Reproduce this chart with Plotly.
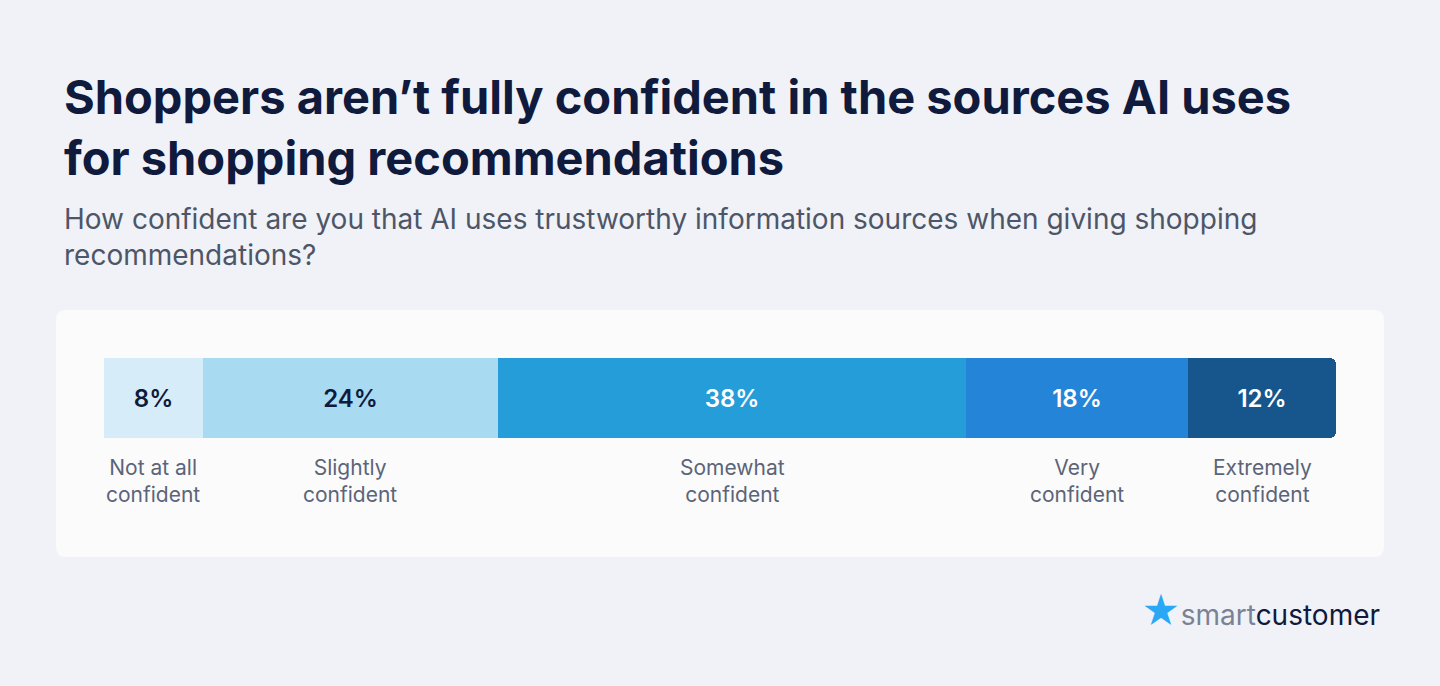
import plotly.graph_objects as go

categories = ["Not at all<br>confident", "Slightly<br>confident", "Somewhat<br>confident",
              "Very<br>confident", "Extremely<br>confident"]
values = [8, 24, 38, 18, 12]
colors = ["#d6ecf8", "#a8daf2", "#259dd9", "#2484d8", "#16568c"]
text_colors = ["#0f1a3c", "#0f1a3c", "#ffffff", "#ffffff", "#ffffff"]

W, H = 1440, 686


def px(x):
    return x / W


def py(y):
    return 1 - y / H


fig = go.Figure()
for cat, v, c, tc in zip(categories, values, colors, text_colors):
    fig.add_trace(go.Bar(
        x=[v], y=[""], orientation="h", marker=dict(color=c, line=dict(width=0)),
        text=[f"{v}%"], textposition="inside", insidetextanchor="middle",
        textfont=dict(family="Inter", size=24, color=tc, weight=600),
        hoverinfo="skip", showlegend=False,
    ))

# card with rounded corners
cx0, cx1, cy0, cy1, r = 56, 1384, 310, 557, 10
path = (f"M {px(cx0 + r)} {py(cy0)} L {px(cx1 - r)} {py(cy0)} Q {px(cx1)} {py(cy0)} {px(cx1)} {py(cy0 + r)} "
        f"L {px(cx1)} {py(cy1 - r)} Q {px(cx1)} {py(cy1)} {px(cx1 - r)} {py(cy1)} "
        f"L {px(cx0 + r)} {py(cy1)} Q {px(cx0)} {py(cy1)} {px(cx0)} {py(cy1 - r)} "
        f"L {px(cx0)} {py(cy0 + r)} Q {px(cx0)} {py(cy0)} {px(cx0 + r)} {py(cy0)} Z")
fig.add_shape(type="path", xref="paper", yref="paper", path=path,
              fillcolor="#fbfbfc", line=dict(width=0), layer="below")

# category labels below bar
cum = 0
for cat, v in zip(categories, values):
    fig.add_annotation(x=cum + v / 2, y=py(453), xref="x", yref="paper",
                       text=cat, showarrow=False, yanchor="top",
                       font=dict(family="Inter", size=21, color="#5b6478"))
    cum += v

fig.add_annotation(x=px(62), y=py(66), xref="paper", yref="paper", xanchor="left", yanchor="top",
                   align="left", showarrow=False,
                   text="<b>Shoppers aren’t fully confident in the sources AI uses<br>for shopping recommendations</b>",
                   font=dict(family="Inter", size=47, color="#0f1a3c"))
fig.add_annotation(x=px(62), y=py(200), xref="paper", yref="paper", xanchor="left", yanchor="top",
                   align="left", showarrow=False,
                   text="How confident are you that AI uses trustworthy information sources when giving shopping<br>recommendations?",
                   font=dict(family="Inter", size=28, color="#4d5668"))
fig.add_annotation(x=px(1382), y=py(611), xref="paper", yref="paper", xanchor="right", yanchor="middle",
                   showarrow=False,
                   text="<span style='color:#2aa8f5;font-size:38px'>★</span><span style='color:#7b8295'>smart</span>customer",
                   font=dict(family="Inter", size=28, color="#0f1a3c"))

fig.update_layout(
    width=W, height=H, barmode="stack", bargap=0, barcornerradius=6,
    paper_bgcolor="#f0f2f7", plot_bgcolor="rgba(0,0,0,0)",
    margin=dict(l=0, r=0, t=0, b=0),
    xaxis=dict(domain=[px(104), px(1336)], range=[0, 100], visible=False, fixedrange=True),
    yaxis=dict(domain=[py(438), py(358)], visible=False, fixedrange=True),
)
fig.write_html("out.html", config={"displayModeBar": False},
               post_script="document.body.style.margin='0';document.body.style.background='#f0f2f7';")
